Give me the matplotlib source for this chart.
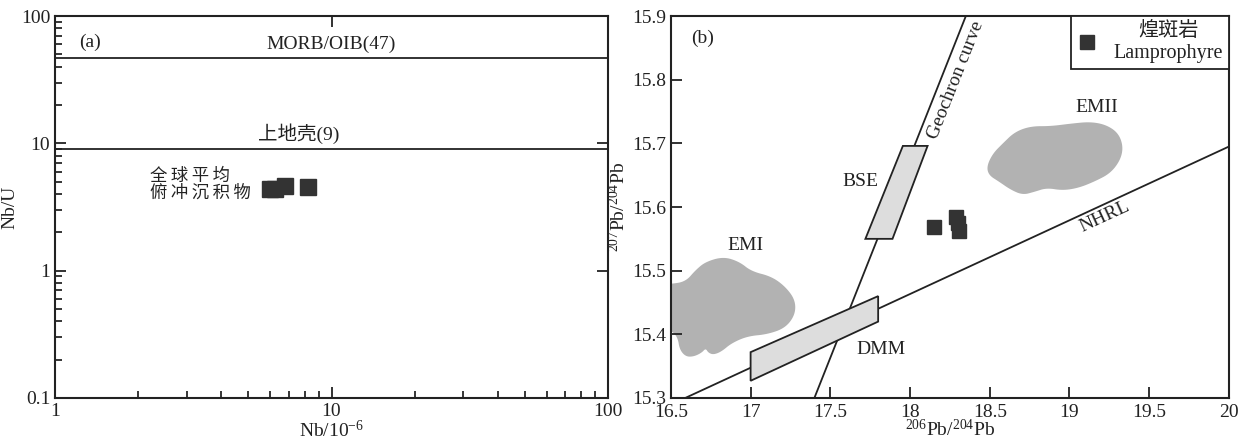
import numpy as np
import matplotlib
matplotlib.use("Agg")
import matplotlib.pyplot as plt
from matplotlib.patches import Polygon
from matplotlib.lines import Line2D
from matplotlib.ticker import FixedLocator, FuncFormatter, LogLocator, NullFormatter

plt.rcParams['font.family'] = ['Liberation Serif', 'Noto Sans CJK SC']
plt.rcParams['mathtext.fontset'] = 'custom'
plt.rcParams['mathtext.rm'] = 'Liberation Serif'
plt.rcParams['mathtext.it'] = 'Liberation Serif:italic'

# ---------------- datos (a) ----------------
nb = [6.0, 6.25, 6.8, 8.2]
nb_u = [4.35, 4.4, 4.65, 4.55]
morb_oib = 47
corteza_sup = 9

# ---------------- datos (b) ----------------
pb206 = [18.15, 18.29, 18.30, 18.31]
pb207 = [15.568, 15.585, 15.575, 15.563]

geocron_x = [17.40, 18.35]
geocron_y = [15.30, 15.90]
nhrl_x = [16.59, 20.0]
nhrl_y = [15.30, 15.695]

bse_x = [17.72, 17.89, 18.11, 17.955]
bse_y = [15.55, 15.55, 15.696, 15.696]
dmm_x = [17.0, 17.8, 17.8, 17.0]
dmm_y = [15.327, 15.42, 15.46, 15.372]

emi_x = [16.40, 16.50, 16.593, 16.655, 16.718, 16.83, 16.93, 17.005, 17.13, 17.218,
         17.28, 17.28, 17.218, 17.105, 16.98, 16.88, 16.818, 16.768, 16.735, 16.718,
         16.693, 16.643, 16.593, 16.555, 16.543, 16.50, 16.40]
emi_y = [15.479, 15.479, 15.483, 15.501, 15.514, 15.522, 15.514, 15.499, 15.491, 15.475,
         15.454, 15.431, 15.410, 15.400, 15.397, 15.386, 15.373, 15.368, 15.371, 15.378,
         15.371, 15.365, 15.365, 15.376, 15.395, 15.407, 15.407]

emii_x = [18.481, 18.519, 18.582, 18.657, 18.757, 18.882, 19.007, 19.132, 19.232, 19.307,
          19.337, 19.320, 19.257, 19.157, 19.057, 18.957, 18.857, 18.782, 18.707, 18.632,
          18.557, 18.494]
emii_y = [15.664, 15.684, 15.700, 15.718, 15.727, 15.727, 15.731, 15.734, 15.729, 15.716,
          15.695, 15.674, 15.653, 15.640, 15.630, 15.626, 15.630, 15.624, 15.619, 15.627,
          15.640, 15.650]

COLOR_TXT = '#222222'
COLOR_MK = '#333333'


def suavizar(xs, ys, n=3):
    """Suavizado de Chaikin para el contorno de los campos"""
    pts = np.column_stack([xs, ys])
    for _ in range(n):
        a = pts
        b = np.roll(pts, -1, axis=0)
        q = 0.75 * a + 0.25 * b
        r = 0.25 * a + 0.75 * b
        pts = np.empty((2 * len(a), 2))
        pts[0::2] = q
        pts[1::2] = r
    return pts


def espaciar(s):
    # separa los caracteres chinos como en la figura original
    return '\u2009'.join(s)


fig = plt.figure(figsize=(12.47, 4.40), dpi=100)

# ======================= (a) =======================
ax1 = fig.add_axes([0.0441, 0.0955, 0.4435, 0.868])
ax1.set_xscale('log')
ax1.set_yscale('log')
ax1.set_xlim(1, 100)
ax1.set_ylim(0.1, 100)

ax1.axhline(morb_oib, color=COLOR_TXT, lw=1.3)
ax1.axhline(corteza_sup, color=COLOR_TXT, lw=1.3)
ax1.plot(nb, nb_u, 's', color=COLOR_MK, ms=11, mec=COLOR_MK)

ax1.text(10, morb_oib * 1.1, f'MORB/OIB({morb_oib})', ha='center', va='bottom',
         fontsize=14, color=COLOR_TXT)
ax1.text(7.6, corteza_sup * 1.1, f'上地壳({corteza_sup})', ha='center', va='bottom',
         fontsize=14, color=COLOR_TXT)
ax1.text(2.2, 4.7, espaciar('全球平均') + '\n' + espaciar('俯冲沉积物'), ha='left', va='center',
         fontsize=12.5, color=COLOR_TXT, linespacing=1.0)
ax1.text(1.22, 62, '(a)', ha='left', va='center', fontsize=14, color=COLOR_TXT)

fmt = FuncFormatter(lambda v, p: f'{v:g}')
ax1.xaxis.set_major_locator(FixedLocator([1, 10, 100]))
ax1.yaxis.set_major_locator(FixedLocator([0.1, 1, 10, 100]))
ax1.xaxis.set_major_formatter(fmt)
ax1.yaxis.set_major_formatter(fmt)
ax1.xaxis.set_minor_locator(LogLocator(base=10, subs=np.arange(2, 10)))
ax1.yaxis.set_minor_locator(LogLocator(base=10, subs=np.arange(2, 10)))
ax1.xaxis.set_minor_formatter(NullFormatter())
ax1.yaxis.set_minor_formatter(NullFormatter())
ax1.tick_params(which='major', direction='in', length=8, width=1.3, labelsize=14,
                colors=COLOR_TXT, top=True, right=True)
ax1.tick_params(which='minor', direction='in', length=5, width=1.1)
ax1.set_xlabel('Nb/10$^{-6}$', fontsize=14, color=COLOR_TXT, labelpad=0)
ax1.set_ylabel('Nb/U', fontsize=14, color=COLOR_TXT, labelpad=2)

# ======================= (b) =======================
ax2 = fig.add_axes([0.538, 0.0955, 0.4475, 0.868])
ax2.set_xlim(16.5, 20)
ax2.set_ylim(15.3, 15.9)

for bx, by in [(emi_x, emi_y), (emii_x, emii_y)]:
    ax2.add_patch(Polygon(suavizar(bx, by), closed=True, fc='#b2b2b2', ec='none', zorder=1))

ax2.plot(geocron_x, geocron_y, color=COLOR_TXT, lw=1.3, zorder=2)
ax2.plot(nhrl_x, nhrl_y, color=COLOR_TXT, lw=1.3, zorder=2)

for px, py in [(bse_x, bse_y), (dmm_x, dmm_y)]:
    ax2.add_patch(Polygon(np.column_stack([px, py]), closed=True, fc='#dddddd',
                          ec=COLOR_TXT, lw=1.3, zorder=3))

ax2.plot(pb206, pb207, 's', color=COLOR_MK, ms=10, mec=COLOR_MK, zorder=4)

# ángulos de los textos a lo largo de las líneas
ang_geo = ax2.transData.transform_angles(
    np.array([np.degrees(np.arctan2(geocron_y[1] - geocron_y[0], geocron_x[1] - geocron_x[0]))]),
    np.array([[geocron_x[0], geocron_y[0]]]))[0]
ang_nhrl = ax2.transData.transform_angles(
    np.array([np.degrees(np.arctan2(nhrl_y[1] - nhrl_y[0], nhrl_x[1] - nhrl_x[0]))]),
    np.array([[nhrl_x[0], nhrl_y[0]]]))[0]

ax2.text(18.29, 15.80, 'Geochron curve', rotation=ang_geo, rotation_mode='anchor',
         ha='center', va='center', fontsize=14, color=COLOR_TXT)
ax2.text(19.22, 15.585, 'NHRL', rotation=ang_nhrl, rotation_mode='anchor',
         ha='center', va='center', fontsize=14, color=COLOR_TXT)
ax2.text(16.97, 15.539, 'EMI', ha='center', va='center', fontsize=14, color=COLOR_TXT)
ax2.text(19.17, 15.757, 'EMII', ha='center', va='center', fontsize=14, color=COLOR_TXT)
ax2.text(17.69, 15.640, 'BSE', ha='center', va='center', fontsize=14, color=COLOR_TXT)
ax2.text(17.82, 15.376, 'DMM', ha='center', va='center', fontsize=14, color=COLOR_TXT)
ax2.text(16.63, 15.865, '(b)', ha='left', va='center', fontsize=14, color=COLOR_TXT)

ax2.xaxis.set_major_locator(FixedLocator(np.arange(16.5, 20.01, 0.5)))
ax2.yaxis.set_major_locator(FixedLocator(np.round(np.arange(15.3, 15.91, 0.1), 1)))
ax2.xaxis.set_major_formatter(fmt)
ax2.yaxis.set_major_formatter(FuncFormatter(lambda v, p: f'{v:.1f}'))
ax2.tick_params(direction='in', length=8, width=1.3, labelsize=14, colors=COLOR_TXT)
ax2.tick_params(axis='x', pad=4.5)
ax2.set_xlabel('$^{206}$Pb/$^{204}$Pb', fontsize=14, color=COLOR_TXT, labelpad=-1.5)
ax2.set_ylabel('$^{207}$Pb/$^{204}$Pb', fontsize=14, color=COLOR_TXT, labelpad=2)

handle = Line2D([], [], ls='none', marker='s', color=COLOR_MK, ms=10)
leg = ax2.legend([handle], ['煌斑岩\nLamprophyre'], loc='upper right', borderaxespad=0,
                 fancybox=False, edgecolor=COLOR_TXT, framealpha=1, fontsize=14.5,
                 handlelength=1.0, handletextpad=0.8, borderpad=0.3)
leg.get_frame().set_linewidth(1.3)
for t in leg.get_texts():
    t.set_color(COLOR_TXT)
    t.set_multialignment('center')

for ax in (ax1, ax2):
    for s in ax.spines.values():
        s.set_linewidth(1.5)
        s.set_color(COLOR_TXT)

fig.savefig('out.png', dpi=100)
